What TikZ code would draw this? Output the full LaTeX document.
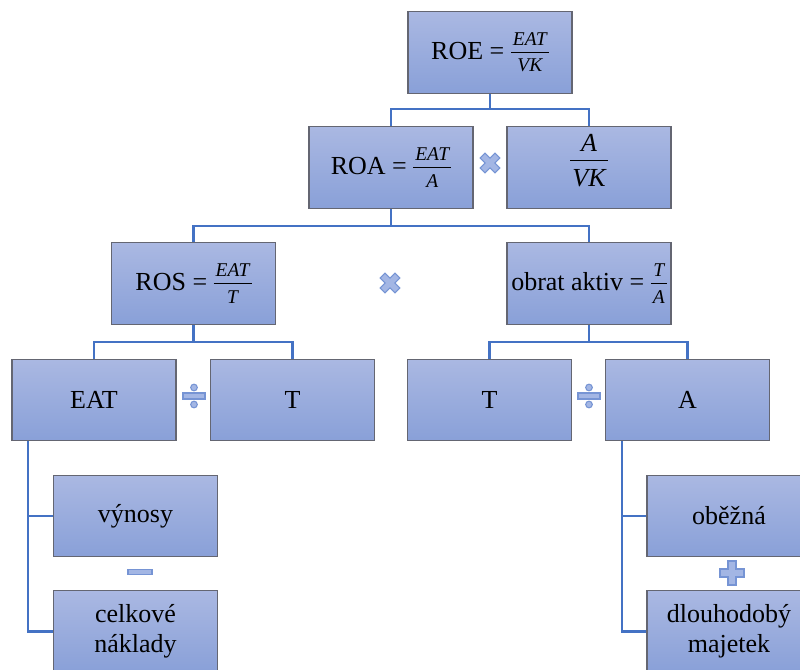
\documentclass[tikz,border=0pt]{standalone}
\usepackage{fontspec}
\setmainfont{Liberation Serif}
\definecolor{boxtop}{RGB}{170,184,226}
\definecolor{boxbot}{RGB}{137,160,216}
\definecolor{boxline}{RGB}{100,102,114}
\definecolor{connblue}{RGB}{68,114,196}
\definecolor{opfill}{RGB}{163,182,228}
\definecolor{opline}{RGB}{118,148,212}
\newcommand\myfrac[3][14.6]{\ensuremath{\vcenter{\hbox{\fontsize{#1}{#1}\selectfont\itshape
  \vbox{\halign{\hfil\kern1.5pt##\kern1.5pt\hfil\cr #2\cr\noalign{\kern0.32em\hrule height 0.8pt\kern0.32em}#3\cr}}}}}}
\tikzset{
  box/.style={rectangle, draw=boxline, line width=0.9pt, top color=boxtop, bottom color=boxbot,
    minimum width=123pt, minimum height=61pt, inner sep=0pt, align=center,
    font=\fontsize{19.5}{22.5}\selectfont},
  link/.style={draw=connblue, line width=1.9pt},
  opshape/.style={fill=opfill, draw=opline, line width=0.8pt},
  opx/.pic={\path[opshape, rotate=45] (-3.5,10.5) -- (3.5,10.5) -- (3.5,3.5) -- (10.5,3.5) -- (10.5,-3.5) -- (3.5,-3.5) -- (3.5,-10.5) -- (-3.5,-10.5) -- (-3.5,-3.5) -- (-10.5,-3.5) -- (-10.5,3.5) -- (-3.5,3.5) -- cycle;},
  opplus/.pic={\path[opshape] (-4,12) -- (4,12) -- (4,4) -- (12,4) -- (12,-4) -- (4,-4) -- (4,-12) -- (-4,-12) -- (-4,-4) -- (-12,-4) -- (-12,4) -- (-4,4) -- cycle;},
  opdiv/.pic={\path[opshape] (-11,-3) rectangle (11,3); \path[opshape] (0,-8.5) circle[radius=2.5pt]; \path[opshape] (0,8.5) circle[radius=2.5pt];},
  opminus/.pic={\path[opshape] (-12,-2.5) rectangle (12,2.5);},
}
\begin{document}
\begin{tikzpicture}[x=0.75pt, y=-0.75pt]
\path[use as bounding box, clip] (0,0) rectangle (800,670);
\fill[white] (0,0) rectangle (800,670);
% boxes
\node[box] (roe) at (490,52.5) {ROE = \myfrac{EAT}{VK}};
\node[box] (roa) at (391,167.5) {ROA = \myfrac{EAT}{A}};
\node[box] (avk) at (589,167.5) {\raisebox{0pt}[0pt][0pt]{\myfrac[19.5]{A}{VK}}};
\node[box] (ros) at (193.5,283.5) {ROS = \myfrac{EAT}{T}};
\node[box] (obr) at (589,283.5) {obrat aktiv = \myfrac{T}{A}};
\node[box] (eat) at (94,400) {EAT};
\node[box] (t1) at (292.5,400) {T};
\node[box] (t2) at (489.5,400) {T};
\node[box] (a) at (687.5,400) {A};
\node[box] (vyn) at (135.5,516) {výnosy};
\node[box] (cel) at (135.5,631.5) {celkové\\náklady};
\node[box] (obe) at (729,516) {oběžná};
\node[box] (dlo) at (729,631.5) {dlouhodobý\\majetek};
% junctions
\coordinate (j1) at (490,109);
\coordinate (j2) at (391,226);
\coordinate (j3) at (193.5,342);
\coordinate (j4) at (589,342);
\coordinate (e0) at (28,441);
\coordinate (a0) at (622,441);
% connectors
\draw[link] (roe.south) -- (j1) -| (roa.north);
\draw[link] (j1) -| (avk.north);
\draw[link] (roa.south) -- (j2) -| (ros.north);
\draw[link] (j2) -| (obr.north);
\draw[link] (ros.south) -- (j3) -| (eat.north);
\draw[link] (j3) -| (t1.north);
\draw[link] (obr.south) -- (j4) -| (t2.north);
\draw[link] (j4) -| (a.north);
\draw[link] (e0) |- (vyn.west);
\draw[link] (e0) |- (cel.west);
\draw[link] (a0) |- (obe.west);
\draw[link] (a0) |- (dlo.west);
% operators
\pic at (490,163) {opx};
\pic at (390,283) {opx};
\pic at (194,396) {opdiv};
\pic at (589,396) {opdiv};
\pic at (140,572) {opminus};
\pic at (732,573) {opplus};
\end{tikzpicture}
\end{document}
